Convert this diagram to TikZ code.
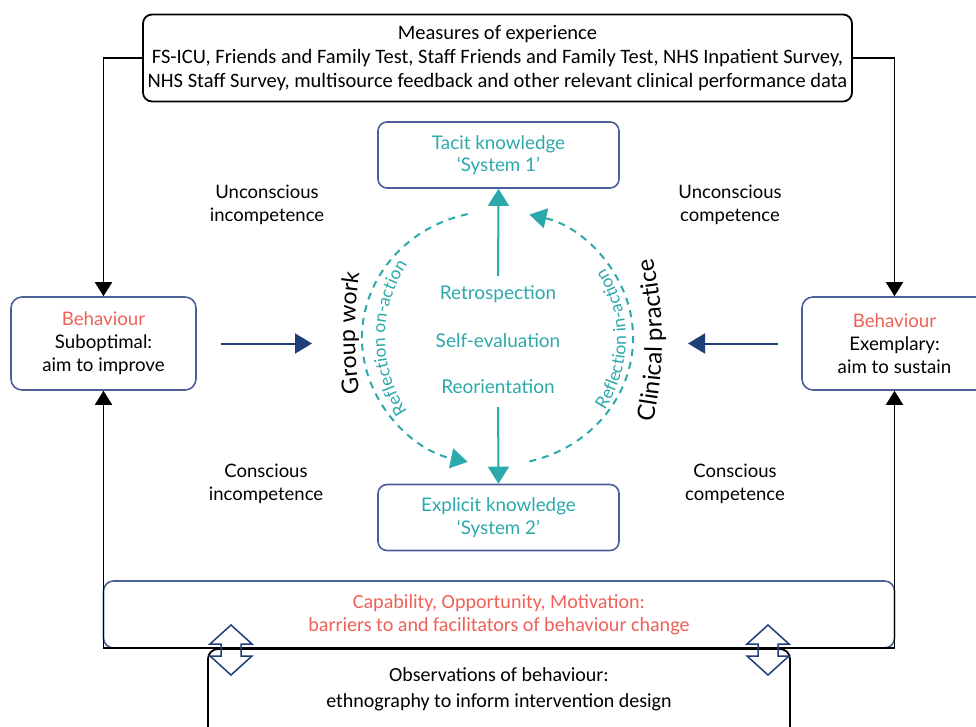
\documentclass[tikz,border=0pt]{standalone}
\usepackage{fontspec}
\setmainfont{Lato}
\newfontfamily\carlfont{Carlito}
\usetikzlibrary{arrows.meta,decorations.text}
\definecolor{tealc}{HTML}{2CA9AB}
\definecolor{redc}{HTML}{EF6158}
\definecolor{navyc}{HTML}{1E3F78}
\definecolor{boxc}{HTML}{4A5F98}
\begin{document}
\begin{tikzpicture}[x=1pt,y=-1pt,
  blackline/.style={draw=black, line width=1.8pt},
  blacktip/.style={-{Triangle[length=14pt,width=17pt]}},
  topbox/.style={draw=black, line width=1.8pt, rounded corners=9pt, minimum width=709pt, minimum height=87pt, align=center, font=\carlfont\fontsize{20.5}{24}\selectfont, inner sep=0pt},
  behbox/.style={draw=boxc, line width=1.6pt, rounded corners=11pt, minimum width=185pt, minimum height=93pt, align=center, font=\fontsize{18.7}{23}\selectfont, inner sep=0pt},
  knowbox/.style={draw=boxc, line width=1.6pt, rounded corners=9pt, minimum width=241pt, minimum height=66pt, align=center, text=tealc, font=\fontsize{18.8}{22.5}\selectfont, inner sep=0pt},
  stagelbl/.style={align=center, font=\fontsize{18.5}{23}\selectfont, inner sep=0pt},
  proclbl/.style={text=tealc, font=\fontsize{19}{20}\selectfont, inner sep=0pt},
  tealarrow/.style={draw=tealc, line width=2pt, -{Triangle[length=17pt,width=21pt]}},
  navyarrow/.style={draw=navyc, line width=2pt, -{Triangle[length=17pt,width=20pt]}},
  dasharc/.style={draw=tealc, line width=2pt, dash pattern=on 7pt off 6pt, -{Triangle[length=17pt,width=20pt]}},
  blockarrow/.style={draw=navyc, line width=1.5pt, line join=miter},
  combox/.style={draw=boxc, line width=1.6pt, rounded corners=10pt, minimum width=791pt, minimum height=67pt, align=center, text=redc, font=\carlfont\fontsize{20.1}{22.5}\selectfont, inner sep=0pt},
  obsbox/.style={draw=black, line width=1.8pt, rounded corners=10pt, minimum width=582pt, minimum height=96pt, inner sep=0pt},
  obstext/.style={align=center, font=\carlfont\fontsize{20}{26}\selectfont, inner sep=0pt},
]
\useasboundingbox (0,0) rectangle (976,727);

% top measures box
\node[topbox] (top) at (497.5,58) {Measures of experience\\FS-ICU, Friends and Family Test, Staff Friends and Family Test, NHS Inpatient Survey,\\NHS Staff Survey, multisource feedback and other relevant clinical performance data};

% behaviour boxes
\node[behbox] (lb) at (103.5,343.5) {\textcolor{redc}{Behaviour}\\Suboptimal:\\aim to improve};
\node[behbox] (rb) at (894.5,343.5) {\textcolor{redc}{Behaviour}\\Exemplary:\\aim to sustain};

% knowledge boxes
\node[knowbox] (tacit) at (498.5,155) {Tacit knowledge\\‘System 1’};
\node[knowbox] (expl) at (498.5,517.5) {Explicit knowledge\\‘System 2’};

% process labels
\node[proclbl] (retro) at (498,294) {Retrospection};
\node[proclbl] (selfev) at (498,341) {Self-evaluation};
\node[proclbl] (reor) at (498,387) {Reorientation};
\draw[tealarrow, shorten <=9pt] (retro.north) -- (tacit.south);
\draw[tealarrow, shorten <=13pt] (reor.south) -- (expl.north);

% stage labels
\node[stagelbl] (ui) at (267,204.5) {Unconscious\\incompetence};
\node[stagelbl] (uc) at (730,204.5) {Unconscious\\competence};
\node[stagelbl] (ci) at (266,483.5) {Conscious\\incompetence};
\node[stagelbl] (cc) at (735,483.5) {Conscious\\competence};

% navy arrows
\coordinate (gw) at (312,343.5);
\coordinate (cp) at (688,343.5);
\draw[navyarrow, shorten <=24pt] (lb.east) -- (gw);
\draw[navyarrow, shorten <=23pt] (rb.west) -- (cp);

% top connectors
\draw[blackline, blacktip] (top.west) -| (lb.north);
\draw[blackline, blacktip] (top.east) -| (rb.north);

% COM-B box and bottom connector
\node[combox] (com) at (499,614.5) {Capability, Opportunity, Motivation:\\barriers to and facilitators of behaviour change};
\coordinate (bl) at (103.5,648);
\coordinate (br) at (894.5,648);
\draw[blackline, {Triangle[length=14pt,width=17pt]}-{Triangle[length=14pt,width=17pt]}] (lb.south) -- (bl) -- (br) -- (rb.south);

% observations box
\node[obsbox] (obs) at (499,697) {};
\node[obstext] (obst) at (499,689) {Observations of behaviour:\\ethnography to inform intervention design};

% double block arrows
\foreach \cx in {231,768}
  \draw[blockarrow] (\cx,625) -- ++(21,19) -- ++(-11,0) -- ++(0,12) -- ++(11,0) -- (\cx,675) -- ++(-21,-19) -- ++(11,0) -- ++(0,-12) -- ++(-11,0) -- cycle;

% dashed reflection arcs
\coordinate (la) at (467.7,214.1);
\coordinate (ra) at (529.4,461.4);
\draw[dasharc] (la) arc[start angle=257.3, end angle=102.7, x radius=135.5, y radius=127];
\draw[dasharc] (ra) arc[start angle=76.4, end angle=-76.4, x radius=135.5, y radius=127];

% curved texts
\path[decorate, decoration={text along path, text align=center, text={|\fontsize{17.5}{17.5}\selectfont\color{tealc}|Reflection on-action}}]
  (516,338) ++(130:131) arc[start angle=130, end angle=230, radius=131];
\path[decorate, decoration={text along path, text align=center, text={|\fontsize{17.5}{17.5}\selectfont\color{tealc}|Reflection in-action}}]
  (497,339) ++(52:129) arc[start angle=52, end angle=-52, radius=129];
\path[decorate, decoration={text along path, text align=center, text={|\fontsize{23}{23}\selectfont|Group work}}]
  (755,333) ++(162:400) arc[start angle=162, end angle=198, radius=400];
\path[decorate, decoration={text along path, text align=center, text={|\fontsize{24}{24}\selectfont|Clinical practice}}]
  (262,340) ++(18:400) arc[start angle=18, end angle=-18, radius=400];
\end{tikzpicture}
\end{document}
